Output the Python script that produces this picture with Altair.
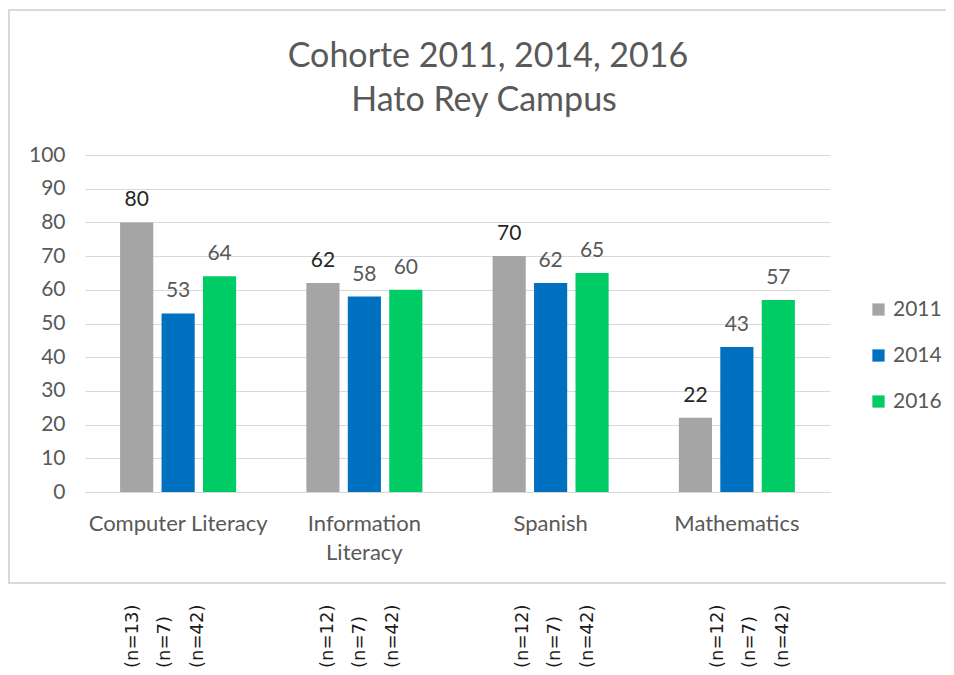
import altair as alt
import pandas as pd

title_lines = ["Cohorte 2011, 2014, 2016", "Hato Rey Campus"]
categories = ["Computer Literacy", "Information Literacy", "Spanish", "Mathematics"]
years = ["2011", "2014", "2016"]
values_2011 = [80, 62, 70, 22]
values_2014 = [53, 58, 62, 43]
values_2016 = [64, 60, 65, 57]
n_2011 = [13, 12, 12, 12]
n_2014 = [7, 7, 7, 7]
n_2016 = [42, 42, 42, 42]
colors = ["#a5a5a5", "#0070c0", "#00cc66"]
y_ticks = list(range(0, 101, 10))

rows = []
for yr, vals, ns in zip(years, [values_2011, values_2014, values_2016], [n_2011, n_2014, n_2016]):
    for c, v, n in zip(categories, vals, ns):
        rows.append({"category": c, "year": yr, "value": v, "nlab": f"(n={n})"})
df = pd.DataFrame(rows)

FONT = "Lato"
GRAY = "#595959"
GRID = "#d9d9d9"

x_enc = alt.X(
    "category:N",
    sort=categories,
    scale=alt.Scale(type="band", paddingInner=0.377, paddingOuter=0.1885),
    axis=alt.Axis(
        title=None,
        labelAngle=0,
        labelFont=FONT,
        labelFontSize=22,
        labelColor=GRAY,
        labelPadding=21,
        labelLineHeight=29,
        ticks=False,
        domain=True,
        domainColor=GRID,
        labelExpr="datum.label == 'Information Literacy' ? ['Information', 'Literacy'] : datum.label",
    ),
)
xo_enc = alt.XOffset("year:N", sort=years, scale=alt.Scale(type="band", paddingInner=0.2, paddingOuter=0))
y_enc = alt.Y(
    "value:Q",
    scale=alt.Scale(domain=[0, 100], nice=False),
    axis=alt.Axis(
        title=None,
        values=y_ticks,
        tickCount=11,
        labelOverlap=False,
        labelFont=FONT,
        labelFontSize=21,
        labelColor=GRAY,
        labelPadding=20,
        ticks=False,
        domain=False,
        grid=True,
        gridColor=GRID,
        gridWidth=1,
    ),
)

base = alt.Chart(df)
one = pd.DataFrame({"a": [0]})

border = alt.Chart(one).mark_rect(
    fillOpacity=0, stroke=GRID, strokeWidth=2
).encode(x=alt.value(-76), x2=alt.value(880), y=alt.value(-145), y2=alt.value(428))

title1 = alt.Chart(one).mark_text(
    font=FONT, fontSize=34, color=GRAY, align="center", baseline="middle", text=title_lines[0]
).encode(x=alt.value(403), y=alt.value(-98))
title2 = alt.Chart(one).mark_text(
    font=FONT, fontSize=34, color=GRAY, align="center", baseline="middle", text=title_lines[1]
).encode(x=alt.value(399), y=alt.value(-54))

bars = base.mark_bar().encode(
    x=x_enc,
    xOffset=xo_enc,
    y=y_enc,
    color=alt.Color(
        "year:N",
        sort=years,
        scale=alt.Scale(domain=years, range=colors),
        legend=alt.Legend(
            title=None,
            orient="none",
            legendX=783,
            legendY=144,
            symbolType="square",
            symbolSize=150,
            symbolStrokeWidth=0,
            labelFont=FONT,
            labelFontSize=21,
            labelColor=GRAY,
            rowPadding=24,
            labelOffset=4,
        ),
    ),
)

labels = base.mark_text(baseline="middle", dy=-22, font=FONT, fontSize=21).encode(
    x=x_enc,
    xOffset=xo_enc,
    y=y_enc,
    text=alt.Text("value:Q"),
    color=alt.condition(alt.datum.year == "2011", alt.value("#262626"), alt.value(GRAY)),
)

main = alt.layer(border, title1, title2, bars, labels)

n_layers = []
for i, yr in enumerate(years):
    n_layers.append(
        base.transform_filter(alt.datum.year == yr)
        .mark_text(
            angle=270, align="left", baseline="middle", font="DejaVu Sans", fontSize=18, color="#1a1a1a"
        )
        .encode(
            x=alt.X(
                "category:N",
                sort=categories,
                bandPosition=(2 * i + 1) / 6,
                scale=alt.Scale(type="band", range=[31.25, 713.75], paddingInner=0.5, paddingOuter=0),
                axis=None,
            ),
            y=alt.value(513),
            text="nlab:N",
        )
    )
nlayer = alt.layer(*n_layers)

chart = alt.layer(main, nlayer).resolve_scale(
    x="independent"
).properties(
    width=745,
    height=337,
    padding={"left": 77, "top": 147, "right": 116, "bottom": 175},
    autosize=alt.AutoSizeParams(type="none"),
    background="white",
).configure_view(stroke=None)

chart.save("out.html", embed_options={"renderer": "svg", "actions": False})
